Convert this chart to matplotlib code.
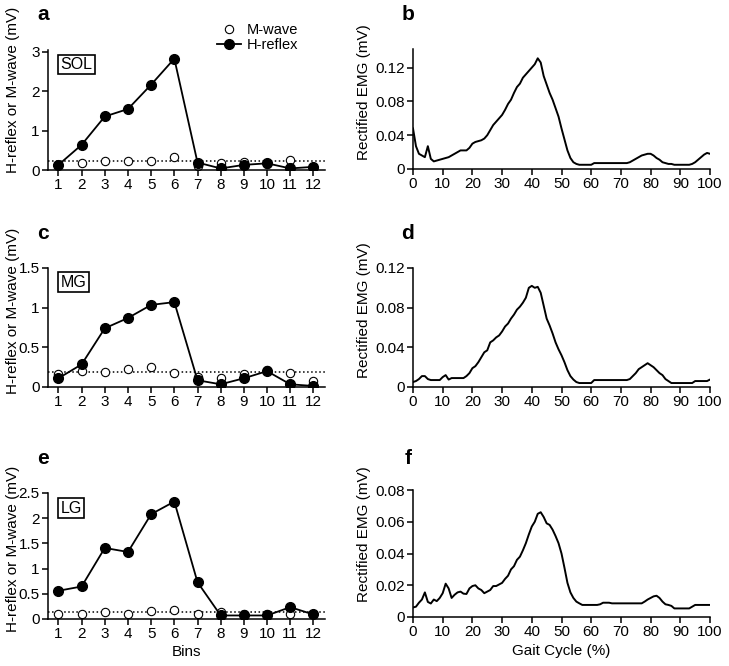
import numpy as np
import matplotlib
matplotlib.use("Agg")
import matplotlib.pyplot as plt
from matplotlib.ticker import FuncFormatter

plt.rcParams['font.family'] = ['Liberation Sans', 'DejaVu Sans']
plt.rcParams['font.size'] = 11

# ---- H-reflex / M-wave per bin ----
bins = np.arange(1, 13)

sol_h = [0.13, 0.64, 1.36, 1.55, 2.17, 2.83, 0.19, 0.04, 0.13, 0.17, 0.04, 0.08]
sol_m = [0.12, 0.19, 0.24, 0.24, 0.24, 0.32, 0.10, 0.19, 0.20, 0.14, 0.26, 0.06]
sol_thr = 0.23

mg_h = [0.11, 0.285, 0.74, 0.87, 1.035, 1.07, 0.085, 0.034, 0.11, 0.20, 0.034, 0.013]
mg_m = [0.17, 0.20, 0.19, 0.23, 0.255, 0.18, 0.13, 0.115, 0.17, 0.22, 0.18, 0.077]
mg_thr = 0.19

lg_h = [0.56, 0.645, 1.41, 1.33, 2.08, 2.33, 0.73, 0.07, 0.07, 0.07, 0.235, 0.09]
lg_m = [0.10, 0.10, 0.13, 0.10, 0.15, 0.18, 0.10, 0.13, 0.10, 0.10, 0.10, 0.10]
lg_thr = 0.13

# ---- rectified EMG over the gait cycle (0..100 %) ----
gait = np.arange(0, 101)

sol_emg = [0.048, 0.027, 0.018, 0.016, 0.014, 0.027, 0.012, 0.009, 0.010, 0.011,
           0.012, 0.013, 0.014, 0.016, 0.018, 0.020, 0.022, 0.022, 0.022, 0.025,
           0.030, 0.032, 0.033, 0.034, 0.036, 0.040, 0.046, 0.052, 0.056, 0.060,
           0.064, 0.070, 0.077, 0.082, 0.090, 0.097, 0.101, 0.108, 0.112, 0.116,
           0.120, 0.124, 0.131, 0.126, 0.110, 0.100, 0.090, 0.082, 0.072, 0.062,
           0.048, 0.035, 0.022, 0.013, 0.008, 0.006, 0.005, 0.005, 0.005, 0.005,
           0.005, 0.007, 0.007, 0.007, 0.007, 0.007, 0.007, 0.007, 0.007, 0.007,
           0.007, 0.007, 0.007, 0.008, 0.010, 0.012, 0.014, 0.016, 0.017, 0.018,
           0.018, 0.016, 0.013, 0.011, 0.008, 0.007, 0.006, 0.006, 0.005, 0.005,
           0.005, 0.005, 0.005, 0.005, 0.006, 0.008, 0.011, 0.014, 0.017, 0.019,
           0.018]

mg_emg = [0.005, 0.006, 0.008, 0.011, 0.011, 0.008, 0.007, 0.007, 0.007, 0.007,
          0.010, 0.012, 0.0075, 0.009, 0.009, 0.009, 0.009, 0.009, 0.011, 0.014,
          0.019, 0.021, 0.025, 0.030, 0.035, 0.037, 0.045, 0.047, 0.050, 0.052,
          0.056, 0.061, 0.064, 0.069, 0.073, 0.078, 0.081, 0.085, 0.090, 0.100,
          0.102, 0.100, 0.101, 0.095, 0.082, 0.069, 0.062, 0.054, 0.045, 0.038,
          0.032, 0.025, 0.017, 0.011, 0.0075, 0.005, 0.004, 0.004, 0.004, 0.004,
          0.004, 0.007, 0.007, 0.007, 0.007, 0.007, 0.007, 0.007, 0.007, 0.007,
          0.007, 0.007, 0.007, 0.008, 0.011, 0.014, 0.018, 0.020, 0.022, 0.024,
          0.022, 0.020, 0.017, 0.014, 0.012, 0.008, 0.006, 0.004, 0.004, 0.004,
          0.004, 0.004, 0.004, 0.004, 0.004, 0.006, 0.006, 0.006, 0.006, 0.006,
          0.0075]

lg_emg = [0.006, 0.0065, 0.009, 0.011, 0.0155, 0.0095, 0.0085, 0.011, 0.010, 0.012,
          0.015, 0.021, 0.018, 0.012, 0.014, 0.0155, 0.016, 0.0147, 0.0145, 0.018,
          0.0195, 0.020, 0.018, 0.017, 0.015, 0.016, 0.017, 0.0195, 0.0195, 0.0205,
          0.0215, 0.024, 0.026, 0.030, 0.032, 0.036, 0.038, 0.042, 0.0465, 0.052,
          0.057, 0.060, 0.065, 0.066, 0.063, 0.059, 0.058, 0.055, 0.051, 0.0465,
          0.040, 0.031, 0.0215, 0.0155, 0.012, 0.0097, 0.0086, 0.0076, 0.0076, 0.0076,
          0.0076, 0.0076, 0.0076, 0.008, 0.009, 0.009, 0.009, 0.0086, 0.0086, 0.0086,
          0.0086, 0.0086, 0.0086, 0.0086, 0.0086, 0.0086, 0.0086, 0.0086, 0.0097, 0.011,
          0.012, 0.013, 0.0134, 0.012, 0.0097, 0.008, 0.0076, 0.007, 0.0054, 0.0054,
          0.0054, 0.0054, 0.0054, 0.0054, 0.0065, 0.0076, 0.0076, 0.0076, 0.0076, 0.0076,
          0.0076]

muscles = ["SOL", "MG", "LG"]
h_data = [sol_h, mg_h, lg_h]
m_data = [sol_m, mg_m, lg_m]
thresholds = [sol_thr, mg_thr, lg_thr]
emg_data = [sol_emg, mg_emg, lg_emg]

h_ylims = [3.05, 1.5, 2.5]
h_yticks = [[0, 1, 2, 3], [0, 0.5, 1, 1.5], [0, 0.5, 1, 1.5, 2, 2.5]]
emg_ylims = [0.142, 0.12, 0.08]
emg_yticks = [[0, 0.04, 0.08, 0.12], [0, 0.04, 0.08, 0.12], [0, 0.02, 0.04, 0.06, 0.08]]

W, H = 729, 666
fig = plt.figure(figsize=(W / 100, H / 100), dpi=100)

# axes rectangles in pixels (top, bottom)
rows_left = [(50, 170), (268, 387), (493, 619)]
rows_right = [(49, 169), (268, 387), (490, 617)]
letters = [("a", "b"), ("c", "d"), ("e", "f")]
letter_y = [15, 233, 458]
# y-label centres (axes fraction), the original isn't centred on the axis
left_label_y = [0.67, 0.64, 0.56]
right_label_y = [0.64, 0.65, 0.65]

fmt = FuncFormatter(lambda v, p: "%g" % v)


def style_axes(ax):
    for s in ["top", "right"]:
        ax.spines[s].set_visible(False)
    for s in ["left", "bottom"]:
        ax.spines[s].set_linewidth(1.1)
    ax.tick_params(direction="out", length=4, width=1.1, labelsize=11, pad=2)
    ax.yaxis.set_major_formatter(fmt)


for i in range(3):
    # left: H-reflex / M-wave
    top, bot = rows_left[i]
    axl = fig.add_axes([48 / W, 1 - bot / H, (325 - 48) / W, (bot - top) / H])
    axl.axhline(thresholds[i], color="black", linestyle=":", linewidth=1.1, zorder=1)
    axl.plot(bins, m_data[i], linestyle="none", marker="o", markersize=6,
             markerfacecolor="white", markeredgecolor="black", markeredgewidth=0.8,
             label="M-wave", zorder=2)
    axl.plot(bins, h_data[i], color="black", linewidth=1.3, marker="o", markersize=7,
             markerfacecolor="black", markeredgecolor="black", label="H-reflex", zorder=3)
    axl.set_xlim(0.55, 12.5)
    axl.set_ylim(0, h_ylims[i])
    axl.set_xticks(bins)
    axl.set_yticks(h_yticks[i])
    style_axes(axl)
    axl.set_ylabel("H-reflex or M-wave (mV)", fontsize=11)
    axl.yaxis.set_label_coords(-0.1, left_label_y[i])
    axl.text(0.045, 0.88, muscles[i], transform=axl.transAxes, fontsize=11.5,
             ha="left", va="center",
             bbox=dict(boxstyle="square,pad=0.15", facecolor="white",
                       edgecolor="black", linewidth=1.2))
    if i == 0:
        axl.legend(loc="upper left", bbox_to_anchor=(0.59, 1.27), frameon=False,
                   fontsize=10.5, handlelength=1.6, handletextpad=0.45,
                   labelspacing=0.05, borderaxespad=0)
    if i == 2:
        axl.set_xlabel("Bins", fontsize=11, labelpad=3)

    # right: rectified EMG
    top, bot = rows_right[i]
    axr = fig.add_axes([413 / W, 1 - bot / H, (710 - 413) / W, (bot - top) / H])
    axr.plot(gait, emg_data[i], color="black", linewidth=1.4)
    axr.set_xlim(0, 100)
    axr.set_ylim(0, emg_ylims[i])
    axr.set_xticks(np.arange(0, 101, 10))
    axr.set_yticks(emg_yticks[i])
    style_axes(axr)
    axr.set_ylabel("Rectified EMG (mV)", fontsize=11)
    axr.yaxis.set_label_coords(-0.14, right_label_y[i])
    if i == 2:
        axr.set_xlabel("Gait Cycle (%)", fontsize=11, labelpad=3)

    fig.text(43 / W, 1 - letter_y[i] / H, letters[i][0], fontsize=15,
             fontweight="bold", ha="center", va="center")
    fig.text(408 / W, 1 - letter_y[i] / H, letters[i][1], fontsize=15,
             fontweight="bold", ha="center", va="center")

fig.savefig("out.png", dpi=100)
